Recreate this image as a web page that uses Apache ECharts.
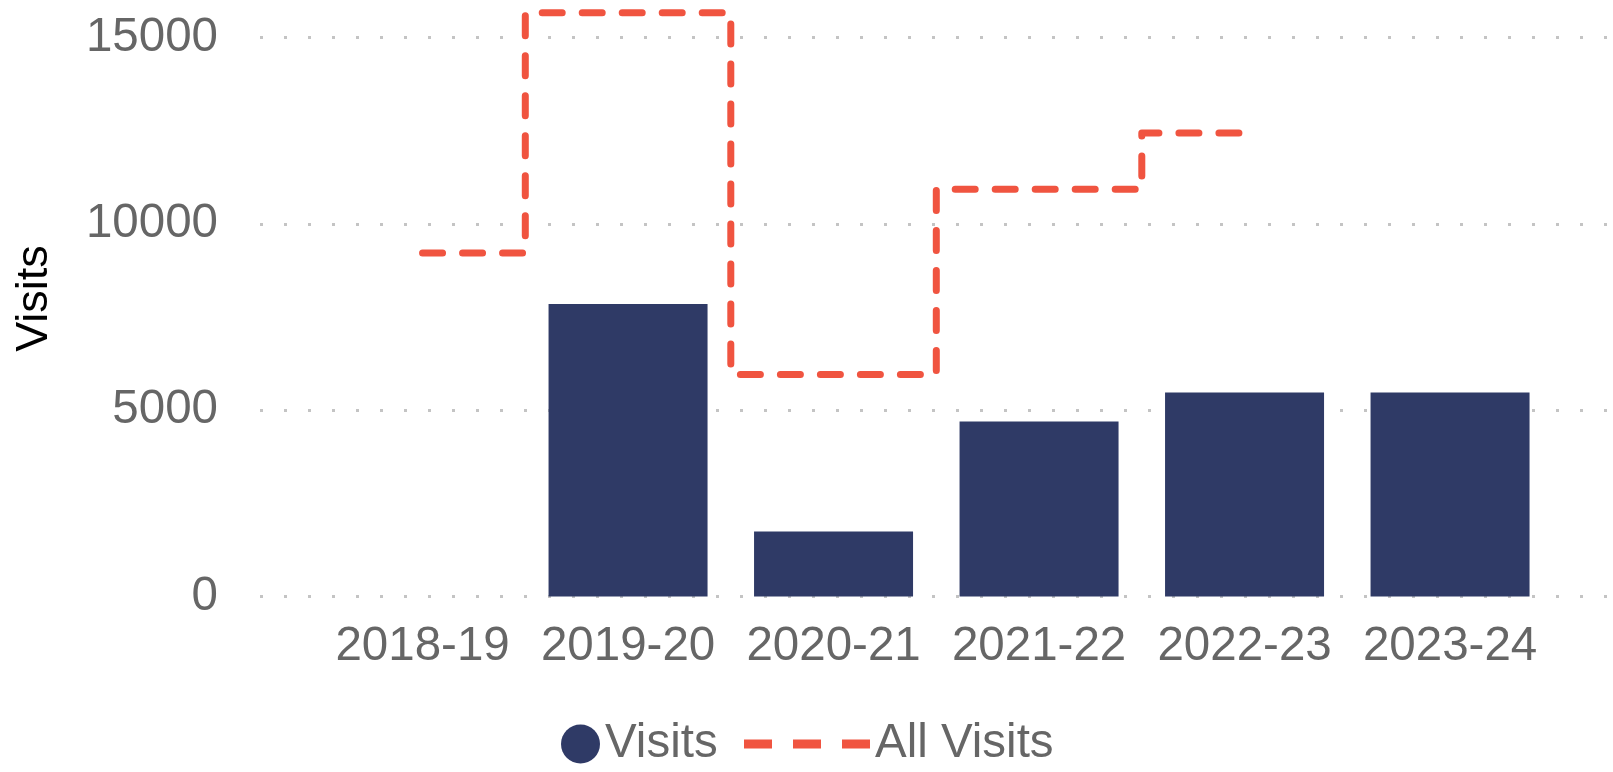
<!DOCTYPE html>
<html>
<head>
<meta charset="utf-8">
<script src="https://cdn.jsdelivr.net/npm/echarts@6/dist/echarts.min.js"></script>
<style>
html,body{margin:0;padding:0;background:#fff;}
#chart{width:1613px;height:772px;}
</style>
</head>
<body>
<div id="chart"></div>
<script>
var categories = ['2018-19', '2019-20', '2020-21', '2021-22', '2022-23', '2023-24'];
var visits = [null, 7850, 1750, 4700, 5480, 5480];
var allVisits = [9220, 15670, 5960, 10930, 12440];
var yTicks = [0, 5000, 10000, 15000];

var chart = echarts.init(document.getElementById('chart'), null, {renderer: 'canvas'});
var labelFont = 'Liberation Sans, Arial, sans-serif';

var option = {
  animation: false,
  backgroundColor: '#ffffff',
  grid: [
    {left: 260, right: 2, top: 37.7, height: 558.9, containLabel: false},
    {left: 319.8, width: 1233, top: 0.4, height: 596.2, containLabel: false}
  ],
  legend: [
    {
      left: 556, top: 715, itemWidth: 39, itemHeight: 39, itemGap: 0,
      icon: 'circle',
      data: ['Visits'],
      textStyle: {fontSize: 47.5, color: '#666666', fontFamily: labelFont}
    },
    {
      left: 739, top: 715, itemWidth: 126, itemHeight: 9, itemGap: 0,
      data: [{name: 'All Visits', icon: 'path://M0,0h28v9h-28z M49,0h28v9h-28z M98,0h28v9h-28z'}],
      itemStyle: {color: '#F05440'},
      textStyle: {fontSize: 47.5, color: '#666666', fontFamily: labelFont}
    }
  ],
  xAxis: [
    {gridIndex: 0, type: 'value', show: false},
    {
      gridIndex: 1, type: 'category', data: categories,
      axisLine: {show: false}, axisTick: {show: false},
      axisLabel: {fontSize: 47.5, color: '#666666', fontFamily: labelFont, margin: 26, interval: 0}
    }
  ],
  yAxis: [
    {
      gridIndex: 0, type: 'value', min: yTicks[0], max: yTicks[yTicks.length - 1], interval: 5000,
      axisLine: {show: false}, axisTick: {show: false},
      axisLabel: {fontSize: 47.5, color: '#666666', fontFamily: labelFont, margin: 42,
        formatter: function (v) { return String(v); }},
      splitLine: {show: true, lineStyle: {color: '#c4c4c4', width: 3, type: [3, 21]}}
    },
    {
      gridIndex: 1, type: 'value', min: 0, max: 16000,
      name: 'Visits', nameLocation: 'middle', nameRotate: 90, nameGap: 263,
      nameTextStyle: {fontSize: 45, color: '#000000', fontFamily: labelFont},
      axisLine: {show: false}, axisTick: {show: false},
      axisLabel: {show: false}, splitLine: {show: false}
    }
  ],
  series: [
    {
      name: 'Visits', type: 'bar', xAxisIndex: 1, yAxisIndex: 1,
      data: visits, barWidth: 159,
      itemStyle: {color: '#2F3A66'}
    },
    {
      name: 'All Visits', type: 'line', xAxisIndex: 1, yAxisIndex: 1,
      data: allVisits, step: 'middle', showSymbol: false, symbol: 'none',
      itemStyle: {color: '#F05440'},
      lineStyle: {color: '#F05440', width: 7, type: [20, 20], cap: 'round', join: 'round'}
    }
  ]
};
chart.setOption(option);
</script>
</body>
</html>
